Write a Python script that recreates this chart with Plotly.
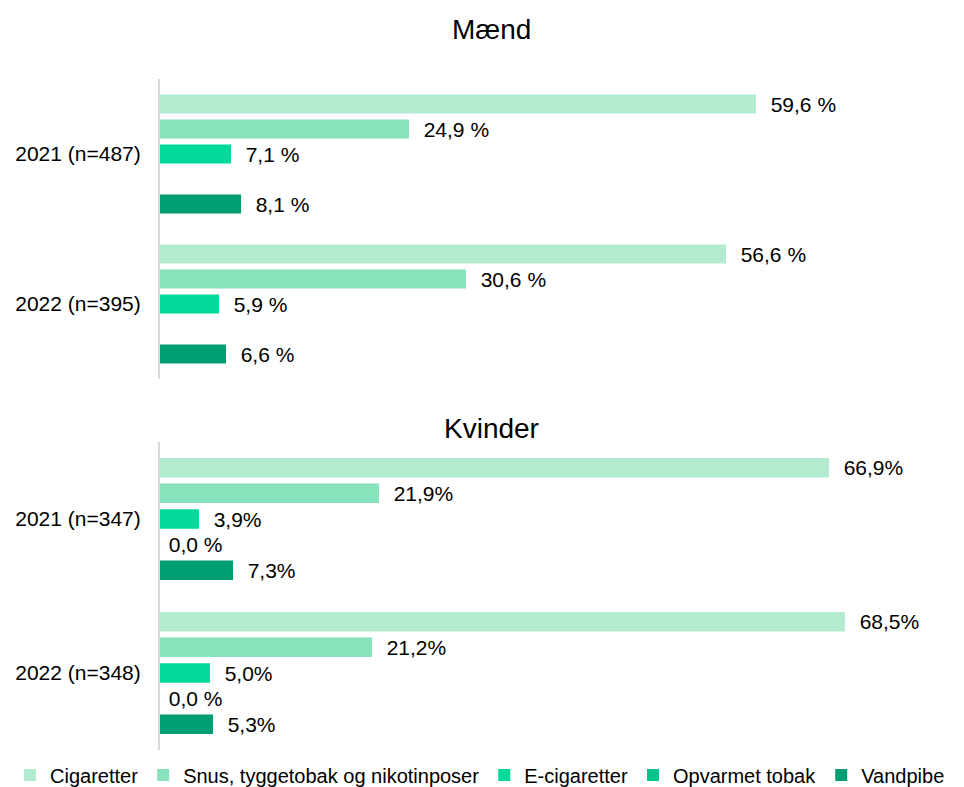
import plotly.graph_objects as go

PRODUCTS = ["Cigaretter", "Snus, tyggetobak og nikotinposer", "E-cigaretter",
            "Opvarmet tobak", "Vandpibe"]
COLORS = ["#B3EBD0", "#88E2BC", "#00D99A", "#00C48C", "#009E72"]

MEN_YEARS = ["2021 (n=487)", "2022 (n=395)"]
MEN_2021 = [59.6, 24.9, 7.1, None, 8.1]
MEN_2022 = [56.6, 30.6, 5.9, None, 6.6]
MEN_2021_TXT = ["59,6 %", "24,9 %", "7,1 %", "", "8,1 %"]
MEN_2022_TXT = ["56,6 %", "30,6 %", "5,9 %", "", "6,6 %"]

WOMEN_YEARS = ["2021 (n=347)", "2022 (n=348)"]
WOMEN_2021 = [66.9, 21.9, 3.9, 0.0, 7.3]
WOMEN_2022 = [68.5, 21.2, 5.0, 0.0, 5.3]
WOMEN_2021_TXT = ["66,9%", "21,9%", "3,9%", "0,0 %", "7,3%"]
WOMEN_2022_TXT = ["68,5%", "21,2%", "5,0%", "0,0 %", "5,3%"]

FONT = "Liberation Sans, Arial, sans-serif"
NBSP = "\u00a0"

fig = go.Figure()


def _label(val, txt):
    if val is None:
        return ""
    # zero-length bars sit closer to the axis in the original
    return (NBSP if val == 0 else NBSP * 2) + txt


def _add_panel(years, v21, v22, t21, t22, yaxis, show_legend):
    for i, prod in enumerate(PRODUCTS):
        fig.add_trace(go.Bar(
            y=years, x=[v21[i], v22[i]], orientation="h", name=prod,
            marker=dict(color=COLORS[i], line=dict(width=0)),
            text=[_label(v21[i], t21[i]), _label(v22[i], t22[i])],
            textposition="outside", constraintext="none",
            textfont=dict(size=21, color="#000000", family=FONT),
            cliponaxis=False, showlegend=show_legend,
            xaxis="x" if yaxis == "y" else "x2", yaxis=yaxis,
            hoverinfo="skip",
        ))


_add_panel(MEN_YEARS, MEN_2021, MEN_2022, MEN_2021_TXT, MEN_2022_TXT, "y", True)
_add_panel(WOMEN_YEARS, WOMEN_2021, WOMEN_2022, WOMEN_2021_TXT, WOMEN_2022_TXT,
           "y2", False)

# page body adds an 8px offset, so the figure is laid out 8px smaller
W, H = 956, 779
ML, MB = 152, 37
PH = H - MB  # plot area height


def _fy(py):
    """paper fraction for a page y pixel"""
    return (PH - (py - 8)) / PH


def _fx(px):
    return (px - 8 - ML) / (W - ML - 4)


axis_x = dict(range=[0, 80], visible=False, showgrid=False, zeroline=False)
axis_y = dict(type="category", autorange="reversed", showgrid=False,
              zeroline=False, showline=True, linecolor="#D9D9D9", linewidth=2,
              ticks="", ticklabelstandoff=13,
              tickfont=dict(size=21, color="#000000", family=FONT))

fig.update_layout(
    width=W, height=H,
    margin=dict(l=ML, r=4, t=0, b=MB, autoexpand=False),
    paper_bgcolor="white", plot_bgcolor="white",
    barmode="group", bargap=1 / 6, bargroupgap=0.24,
    font=dict(family=FONT, size=20, color="#000000"),
    xaxis=dict(axis_x, domain=[0, 1], anchor="y"),
    xaxis2=dict(axis_x, domain=[0, 1], anchor="y2"),
    yaxis=dict(axis_y, domain=[_fy(379), _fy(79)], anchor="x",
               categoryarray=MEN_YEARS),
    yaxis2=dict(axis_y, domain=[max(_fy(750), 0), _fy(442)], anchor="x2",
                categoryarray=WOMEN_YEARS),
    legend=dict(orientation="h", x=_fx(10), xanchor="left", y=_fy(775),
                yanchor="middle", font=dict(size=20, family=FONT),
                traceorder="normal", itemwidth=30),
    annotations=[
        dict(text="Mænd", xref="paper", yref="paper", x=_fx(491),
             y=_fy(30), showarrow=False, xanchor="center",
             yanchor="middle", font=dict(size=28, family=FONT)),
        dict(text="Kvinder", xref="paper", yref="paper", x=_fx(491),
             y=_fy(428), showarrow=False, xanchor="center",
             yanchor="middle", font=dict(size=28, family=FONT)),
    ],
)

fig.write_html("out.html")
